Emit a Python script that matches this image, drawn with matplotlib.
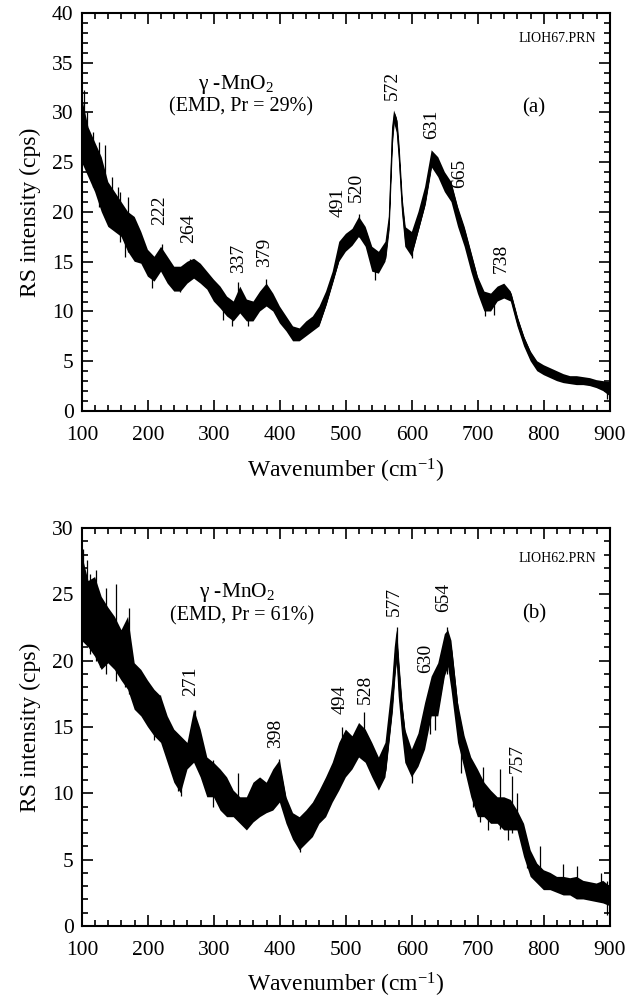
import numpy as np
import matplotlib
matplotlib.use("Agg")
import matplotlib.pyplot as plt
from matplotlib.ticker import MultipleLocator

plt.rcParams['font.family'] = ['Liberation Serif', 'DejaVu Serif']
plt.rcParams['mathtext.fontset'] = 'custom'
plt.rcParams['mathtext.rm'] = 'Liberation Serif'
plt.rcParams['mathtext.it'] = 'Liberation Serif:italic'
plt.rcParams['hatch.linewidth'] = 0.7

# panel (a): LIOH67, noise band (lower / upper edge)
wn_a = [100, 110, 120, 130, 140, 150, 160, 170, 180, 190, 200, 210, 220, 230,
        240, 250, 260, 270, 280, 290, 300, 310, 320, 330, 340, 350, 360, 370,
        380, 390, 400, 410, 420, 430, 440, 450, 460, 470, 480, 490, 500, 510,
        520, 530, 540, 550, 560, 565, 570, 573, 577, 580, 585, 590, 600, 610,
        620, 630, 640, 650, 660, 670, 680, 690, 700, 710, 720, 730, 740, 750,
        760, 770, 780, 790, 800, 810, 820, 830, 840, 850, 860, 870, 880, 890, 900]
lo_a = [25.0, 23.5, 22.0, 20.0, 18.5, 18.0, 17.5, 16.0, 15.0, 14.8, 13.5, 13.0,
        14.0, 12.8, 12.0, 12.0, 12.8, 13.3, 12.8, 12.2, 11.0, 10.3, 9.5, 9.0,
        9.8, 9.0, 9.0, 10.0, 10.5, 10.0, 8.8, 8.0, 7.0, 7.0, 7.5, 8.0, 8.5,
        10.5, 12.8, 15.0, 16.0, 16.6, 17.5, 16.5, 14.0, 13.8, 15.0, 18.0, 26.5,
        29.0, 28.0, 25.5, 20.0, 16.5, 15.5, 18.0, 20.5, 24.5, 23.5, 22.0, 21.0,
        18.5, 16.5, 14.0, 11.8, 10.0, 10.0, 11.0, 11.3, 11.0, 8.5, 6.5, 5.0,
        4.0, 3.6, 3.3, 3.0, 2.8, 2.7, 2.6, 2.6, 2.5, 2.3, 2.0, 1.5]
hi_a = [31.5, 28.5, 27.0, 25.5, 23.0, 22.0, 21.0, 20.0, 19.5, 18.0, 16.2, 15.5,
        16.5, 15.5, 14.5, 14.5, 15.0, 15.3, 14.8, 14.0, 13.2, 12.5, 11.5, 11.0,
        12.5, 11.2, 11.0, 12.0, 12.8, 11.8, 10.5, 9.5, 8.5, 8.3, 9.0, 9.5, 10.5,
        12.0, 14.0, 17.0, 17.8, 18.3, 19.5, 18.5, 16.5, 16.0, 17.0, 19.5, 28.5,
        30.2, 29.5, 27.0, 21.5, 18.5, 18.0, 20.0, 22.5, 26.2, 25.5, 24.0, 23.0,
        20.5, 18.5, 16.0, 13.5, 12.0, 11.8, 12.5, 12.8, 12.0, 9.5, 7.5, 6.0,
        5.0, 4.6, 4.3, 4.0, 3.7, 3.5, 3.5, 3.4, 3.3, 3.1, 3.0, 2.9]
# single noise spikes sticking out of the band
spk_x_a = [103, 108, 117, 126, 135, 146, 155, 158, 165, 170, 206, 222, 248, 264,
           314, 327, 337, 352, 379, 520, 544, 600, 711, 724, 896]
spk_lo_a = [26.0, 24.0, 22.5, 20.5, 19.5, 18.5, 19.5, 17.0, 15.5, 16.0, 12.4, 14.5,
            12.0, 13.5, 9.1, 8.5, 10.5, 8.5, 10.8, 17.5, 13.2, 15.4, 9.5, 9.6, 1.2]
spk_hi_a = [32.3, 30.0, 28.0, 27.0, 26.7, 23.5, 22.5, 22.0, 18.0, 21.5, 15.0, 16.8,
            13.5, 15.3, 11.0, 10.0, 13.0, 10.0, 13.3, 19.8, 15.0, 16.5, 11.0, 11.0, 2.8]

# panel (b): LIOH62
wn_b = [100, 110, 120, 130, 140, 150, 160, 170, 180, 190, 200, 210, 220, 230,
        240, 250, 260, 270, 280, 290, 300, 310, 320, 330, 340, 350, 360, 370,
        380, 390, 400, 410, 420, 430, 440, 450, 460, 470, 480, 490, 500, 510,
        520, 530, 540, 550, 560, 570, 574, 577, 580, 585, 590, 600, 610, 620,
        630, 640, 650, 655, 660, 670, 680, 690, 700, 710, 720, 730, 740, 750,
        760, 770, 780, 790, 800, 810, 820, 830, 840, 850, 860, 870, 880, 890, 900]
lo_b = [21.5, 21.0, 20.3, 19.3, 19.8, 19.3, 18.5, 17.8, 16.3, 15.8, 15.0, 14.3,
        13.8, 12.3, 10.8, 10.0, 11.8, 12.3, 11.2, 9.7, 9.7, 8.7, 8.2, 8.2, 7.7,
        7.2, 7.8, 8.2, 8.5, 8.7, 9.3, 7.7, 6.5, 5.7, 6.2, 6.7, 7.7, 8.2, 9.3,
        10.2, 11.2, 11.8, 12.7, 12.3, 11.2, 10.2, 11.2, 15.8, 18.5, 20.0, 17.3,
        14.5, 12.3, 11.2, 12.0, 13.3, 15.8, 15.8, 18.8, 19.5, 17.8, 13.8, 11.8,
        9.7, 8.2, 8.2, 7.7, 7.7, 7.2, 7.2, 7.2, 5.2, 3.7, 3.2, 2.7, 2.7, 2.5,
        2.3, 2.3, 2.0, 2.0, 1.9, 1.8, 1.7, 1.5]
hi_b = [28.0, 26.0, 26.3, 24.8, 24.0, 23.3, 22.3, 23.3, 19.8, 19.3, 18.5, 17.8,
        17.3, 15.8, 14.8, 14.3, 13.8, 16.3, 14.8, 12.7, 12.3, 11.8, 11.2, 10.2,
        9.7, 9.7, 10.8, 11.2, 10.8, 11.8, 12.5, 9.7, 8.5, 8.2, 8.7, 9.3, 10.2,
        11.2, 12.3, 13.8, 14.8, 14.3, 15.3, 14.8, 13.8, 12.7, 13.8, 18.3, 21.0,
        22.3, 20.3, 17.0, 14.8, 13.3, 14.5, 16.8, 18.8, 19.8, 22.0, 22.3, 21.5,
        16.8, 14.3, 12.7, 11.8, 10.8, 10.2, 9.7, 9.7, 9.5, 8.7, 7.7, 5.7, 4.7,
        4.2, 4.0, 3.7, 3.7, 3.6, 3.7, 3.4, 3.3, 3.2, 3.4, 3.0]
spk_x_b = [102, 108, 112, 121, 128, 137, 152, 166, 171, 193, 209, 219, 246, 250,
           271, 298, 337, 398, 430, 494, 528, 577, 600, 627, 635, 654, 675, 693,
           703, 708, 716, 733, 745, 752, 760, 774, 794, 809, 829, 850, 865, 887, 895]
spk_lo_b = [22.0, 22.0, 20.5, 20.0, 19.5, 19.0, 18.5, 18.0, 17.5, 16.0, 14.0, 15.0,
            10.2, 9.8, 12.5, 9.0, 9.0, 9.5, 5.6, 11.0, 12.5, 19.5, 10.8, 14.5, 14.8,
            19.0, 11.5, 9.0, 7.8, 9.5, 7.2, 7.3, 6.5, 7.0, 8.0, 4.4, 3.8, 2.9, 3.0,
            3.0, 2.2, 2.5, 0.8]
spk_hi_b = [28.4, 27.6, 26.5, 26.8, 22.5, 25.5, 25.8, 20.5, 24.0, 18.0, 16.0, 17.4,
            12.5, 13.8, 16.3, 12.5, 11.5, 12.6, 8.0, 15.0, 16.1, 22.5, 13.3, 16.5,
            17.5, 22.5, 14.0, 11.0, 10.0, 12.0, 9.0, 11.8, 8.5, 11.3, 10.0, 6.0,
            6.0, 3.8, 4.7, 4.5, 3.0, 4.0, 3.4]

peaks_a = [222, 264, 337, 379, 491, 520, 572, 631, 665, 738]
peak_pos_a = [(218, 18.7), (262, 16.9), (337, 13.9), (377, 14.5), (488, 19.5),
              (516, 21.0), (570, 31.3), (630, 27.3), (673, 22.4), (736, 13.9)]
peaks_b = [271, 398, 494, 528, 577, 630, 654, 757]
peak_pos_b = [(265, 17.3), (394, 13.4), (491, 16.0), (529, 16.7), (573, 23.4),
              (621, 19.1), (648, 23.7), (759, 11.5)]

fig = plt.figure(figsize=(6.3, 9.99), dpi=100)
ax_a = fig.add_axes([0.130, 0.5886, 0.838, 0.3984])
ax_b = fig.add_axes([0.130, 0.0731, 0.838, 0.3984])


def draw_panel(ax, wn, lo, hi, sx, slo, shi, ymax, peaks, ppos,
               fname, fpos, letter, lpos, pr, title_pos):
    lo = np.array(lo)
    hi = np.array(hi)
    w = hi - lo
    # dense core of the noisy trace, then a striped fringe out to the envelope
    ax.fill_between(wn, lo + 0.2 * w, hi - 0.2 * w, color='black', lw=0.6)
    ax.fill_between(wn, lo, hi, facecolor='none', edgecolor='black',
                    hatch='|' * 30, lw=0)
    ax.vlines(sx, slo, shi, color='black', lw=0.9)
    for lab, (px, py) in zip(peaks, ppos):
        ax.text(px, py, str(lab), rotation=90, ha='center', va='bottom', fontsize=14)
    ax.text(fpos[0], fpos[1], fname, ha='right', va='center', fontsize=10)
    ax.text(lpos[0], lpos[1], letter, ha='center', va='center', fontsize=15)
    ax.text(title_pos[0], title_pos[1], "γ -MnO$_2$", ha='center', va='center', fontsize=15.5)
    ax.text(title_pos[0] + 8, title_pos[2], "(EMD, Pr = %d%%)" % pr,
            ha='center', va='center', fontsize=14.5)

    ax.set_xlim(100, 900)
    ax.set_ylim(0, ymax)
    ax.xaxis.set_major_locator(MultipleLocator(100))
    ax.xaxis.set_minor_locator(MultipleLocator(20))
    ax.yaxis.set_major_locator(MultipleLocator(5))
    ax.yaxis.set_minor_locator(MultipleLocator(1))
    ax.tick_params(which='both', direction='in', top=True, right=True,
                   labelsize=15.5, width=1.2)
    ax.tick_params(which='major', length=8)
    ax.tick_params(axis='x', which='major', pad=11)
    ax.tick_params(axis='y', which='major', pad=6)
    ax.tick_params(which='minor', length=4)
    for s in ax.spines.values():
        s.set_linewidth(1.5)
    ax.set_xlabel("Wavenumber (cm$^{-1}$)", fontsize=17, labelpad=8)
    ax.set_ylabel("RS intensity (cps)", fontsize=17, labelpad=8)


draw_panel(ax_a, wn_a, lo_a, hi_a, spk_x_a, spk_lo_a, spk_hi_a, 40, peaks_a, peak_pos_a,
           "LIOH67.PRN", (880, 37.4), "(a)", (785, 30.5), 29, (333, 32.8, 30.6))
draw_panel(ax_b, wn_b, lo_b, hi_b, spk_x_b, spk_lo_b, spk_hi_b, 30, peaks_b, peak_pos_b,
           "LIOH62.PRN", (880, 27.7), "(b)", (785, 23.5), 61, (335, 25.15, 23.4))

fig.savefig("out.png", dpi=100)
